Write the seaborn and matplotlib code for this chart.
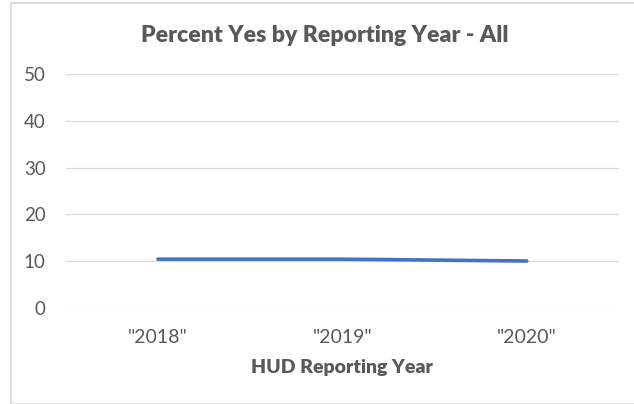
import matplotlib
matplotlib.use("Agg")
import matplotlib.pyplot as plt
import matplotlib.patches as mpatches
import seaborn as sns
import pandas as pd

# ---------------------------------
# Data
# ---------------------------------

years = ['"2018"', '"2019"', '"2020"']
pct_yes = [10.4, 10.4, 10.0]
y_ticks = [0, 10, 20, 30, 40, 50]

df = pd.DataFrame({"year": years, "pct": pct_yes})

# ---------------------------------
# Style
# ---------------------------------

sns.set_theme(style="white")
plt.rcParams['font.family'] = ['Lato', 'DejaVu Sans']
text_color = "#595959"
grid_color = "#D9D9D9"

W, H = 634, 404
fig = plt.figure(figsize=(W / 100, H / 100), dpi=100)

# outer chart border
fig.patches.append(mpatches.Rectangle(
    (10.5 / W, 0.5 / H), (640 - 10.5) / W, (401 - 0.5) / H,
    transform=fig.transFigure, fill=False, edgecolor=grid_color, linewidth=1.2))

ax = fig.add_axes([65.7 / W, 1 - 307.7 / H, (619 - 65.7) / W, (307.7 - 74.3) / H])

sns.lineplot(data=df, x="year", y="pct", ax=ax, color="#4472C4",
             linewidth=2.6, solid_capstyle='round', sort=False)

ax.set_xlim(-0.5, 2.5)
ax.set_ylim(0, 50)
ax.set_yticks(y_ticks)

ax.yaxis.grid(True, color=grid_color, linewidth=0.9)
ax.xaxis.grid(False)
ax.set_axisbelow(True)
for s in ax.spines.values():
    s.set_visible(False)

ax.tick_params(axis='y', length=0, pad=14.5, labelsize=13.5, labelcolor=text_color)
ax.tick_params(axis='x', length=0, pad=15.5, labelsize=14, labelcolor=text_color)

ax.set_ylabel("")
ax.set_xlabel("HUD Reporting Year", fontsize=14, fontweight='heavy',
              color=text_color, labelpad=9)

fig.text(325 / W, 1 - 36 / H, "Percent Yes by Reporting Year - All",
         ha='center', va='center', fontsize=16.6, fontweight='heavy', color=text_color)

fig.savefig("out.png", dpi=100)
